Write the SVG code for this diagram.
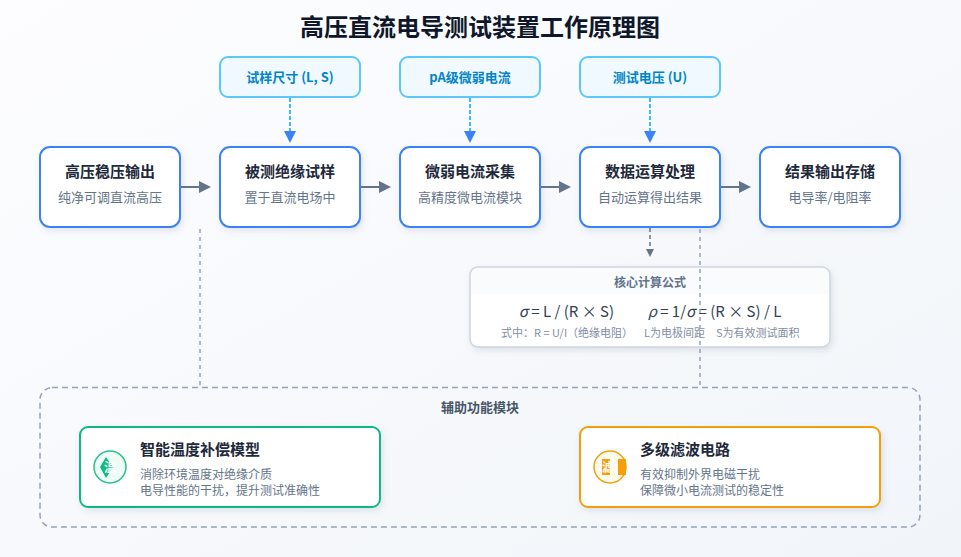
<svg xmlns="http://www.w3.org/2000/svg" width="961" height="557" viewBox="0 0 961 557">
<style>
text{font-family:"Noto Sans CJK SC","Noto Sans",sans-serif;text-anchor:middle}
.main{fill:#fff;stroke:#3b82f6;stroke-width:2;filter:url(#sh)}
.in{fill:#f0f9ff;stroke:#5ac8fa;stroke-width:2}
.t{font-size:15px;font-weight:700;fill:#1e293b}
.s{font-size:13px;fill:#64748b}
.it{font-size:13px;font-weight:700;fill:#0284c7}
.flow{stroke:#64748b;stroke-width:2;fill:none;marker-end:url(#ag)}
.inp{stroke:#38bdf8;stroke-width:2;stroke-dasharray:4 2;fill:none;marker-end:url(#ab)}
.aux{stroke:#94a3b8;stroke-width:1.5;stroke-dasharray:4 4;fill:none}
.d{font-size:12px;fill:#64748b;text-anchor:start}
.h{font-size:15px;font-weight:700;fill:#1e293b;text-anchor:start}
.f{font-size:15px;fill:#334155}
.fi{font-style:italic}
.n{font-size:11px;fill:#7f8ea3;text-anchor:start}
</style>
<defs>
<linearGradient id="bg" x1="0" y1="0" x2="1" y2="1"><stop offset="0" stop-color="#fdfdff"/><stop offset="1" stop-color="#f1f5f9"/></linearGradient>
<filter id="sh" x="-10%" y="-10%" width="120%" height="125%"><feDropShadow dx="2" dy="3" stdDeviation="3" flood-color="#64748b" flood-opacity=".16"/></filter>
<marker id="ag" markerWidth="12" markerHeight="12" refX="10" refY="6" orient="auto" markerUnits="userSpaceOnUse"><path d="M0 0L12 6L0 12Z" fill="#64748b"/></marker>
<marker id="ab" markerWidth="12" markerHeight="12" refX="10" refY="6" orient="auto" markerUnits="userSpaceOnUse"><path d="M0 0L12 6L0 12Z" fill="#3b82f6"/></marker>
<marker id="ad" markerWidth="8" markerHeight="8" refX="6" refY="4" orient="auto" markerUnits="userSpaceOnUse"><path d="M0 0L8 4L0 8Z" fill="#64748b"/></marker>
</defs>
<rect width="961" height="557" fill="url(#bg)"/>
<text x="480" y="36" font-size="24" font-weight="700" fill="#0f172a">高压直流电导测试装置工作原理图</text>

<g id="node-hv"><rect class="main" x="40" y="147" width="140" height="80" rx="10"/><text class="t" x="110" y="177">高压稳压输出</text><text class="s" x="110" y="202">纯净可调直流高压</text></g>
<g id="node-sample"><rect class="main" x="220" y="147" width="140" height="80" rx="10"/><text class="t" x="290" y="177">被测绝缘试样</text><text class="s" x="290" y="202">置于直流电场中</text></g>
<g id="node-current"><rect class="main" x="400" y="147" width="140" height="80" rx="10"/><text class="t" x="470" y="177">微弱电流采集</text><text class="s" x="470" y="202">高精度微电流模块</text></g>
<g id="node-calc"><rect class="main" x="580" y="147" width="140" height="80" rx="10"/><text class="t" x="650" y="177">数据运算处理</text><text class="s" x="650" y="202">自动运算得出结果</text></g>
<g id="node-out"><rect class="main" x="760" y="147" width="140" height="80" rx="10"/><text class="t" x="830" y="177">结果输出存储</text><text class="s" x="830" y="202">电导率/电阻率</text></g>

<g id="input-size"><rect class="in" x="220" y="57" width="140" height="40" rx="8"/><text class="it" x="290" y="82">试样尺寸 (L, S)</text></g>
<g id="input-current"><rect class="in" x="400" y="57" width="140" height="40" rx="8"/><text class="it" x="470" y="82">pA级微弱电流</text></g>
<g id="input-voltage"><rect class="in" x="580" y="57" width="140" height="40" rx="8"/><text class="it" x="650" y="82">测试电压 (U)</text></g>

<g id="formula">
<rect x="470" y="267" width="360" height="80" rx="8" fill="#fff" stroke="#cbd5e1" stroke-width="1.5" filter="url(#sh)"/>
<path d="M471 294V275a7 7 0 0 1 7-7H822a7 7 0 0 1 7 7V294Z" fill="#f8fafc" opacity=".8"/>
<text x="650" y="287" font-size="12" font-weight="700" fill="#64748b">核心计算公式</text>
<text class="f" x="566.5" y="317"><tspan class="fi">σ</tspan> = L / (R × S)</text>
<text class="f" x="714.5" y="317"><tspan class="fi">ρ</tspan> = 1/<tspan class="fi">σ</tspan> = (R × S) / L</text>
<text class="n" x="501" y="337">式中：R = U/I（绝缘电阻）</text>
<text class="n" x="644" y="337">L为电极间距</text>
<text class="n" x="716" y="337">S为有效测试面积</text>
</g>

<g id="aux-module">
<rect x="40" y="387.5" width="880" height="139.5" rx="12" fill="none" stroke="#94a3b8" stroke-width="1.5" stroke-dasharray="6 4"/>
<text x="480" y="412" font-size="13" font-weight="700" fill="#475569">辅助功能模块</text>
</g>

<g id="aux-temp">
<rect x="80" y="427" width="300" height="80" rx="8" fill="#fff" stroke="#10b981" stroke-width="2" filter="url(#sh)"/>
<circle cx="110" cy="467" r="16" fill="#ecfdf5" stroke="#10b981" stroke-width="1.5" opacity=".9"/>
<path d="M106 457L113 467L106 478L100 467Z" fill="#10b981"/>
<text x="110" y="472" font-size="12" font-weight="700" fill="#fff">温</text>
<text class="h" x="140" y="455">智能温度补偿模型</text>
<text class="d" x="140" y="479">消除环境温度对绝缘介质</text>
<text class="d" x="140" y="495">电导性能的干扰，提升测试准确性</text>
</g>

<g id="aux-filter">
<rect x="580" y="427" width="300" height="80" rx="8" fill="#fff" stroke="#f59e0b" stroke-width="2" filter="url(#sh)"/>
<circle cx="610" cy="467" r="16" fill="#fffbeb" stroke="#f59e0b" stroke-width="1.5"/>
<rect x="602" y="459" width="8" height="16" fill="#f59e0b"/>
<rect x="618" y="459" width="8" height="16" fill="#f59e0b"/>
<text x="608" y="472" font-size="12" font-weight="700" fill="#fff">滤</text>
<text class="h" x="640" y="455">多级滤波电路</text>
<text class="d" x="640" y="479">有效抑制外界电磁干扰</text>
<text class="d" x="640" y="495">保障微小电流测试的稳定性</text>
</g>

<g id="connectors">
<path class="flow" d="M181 187H209"/>
<path class="flow" d="M361 187H389"/>
<path class="flow" d="M541 187H569"/>
<path class="flow" d="M721 187H749"/>
<path class="inp" d="M290 98V141"/>
<path class="inp" d="M470 98V141"/>
<path class="inp" d="M650 98V141"/>
<path d="M650 228V255" stroke="#64748b" stroke-width="1.5" stroke-dasharray="4 3" fill="none" marker-end="url(#ad)"/>
<path class="aux" d="M200 229V387"/>
<path class="aux" d="M700 229V387"/>
</g>
</svg>
